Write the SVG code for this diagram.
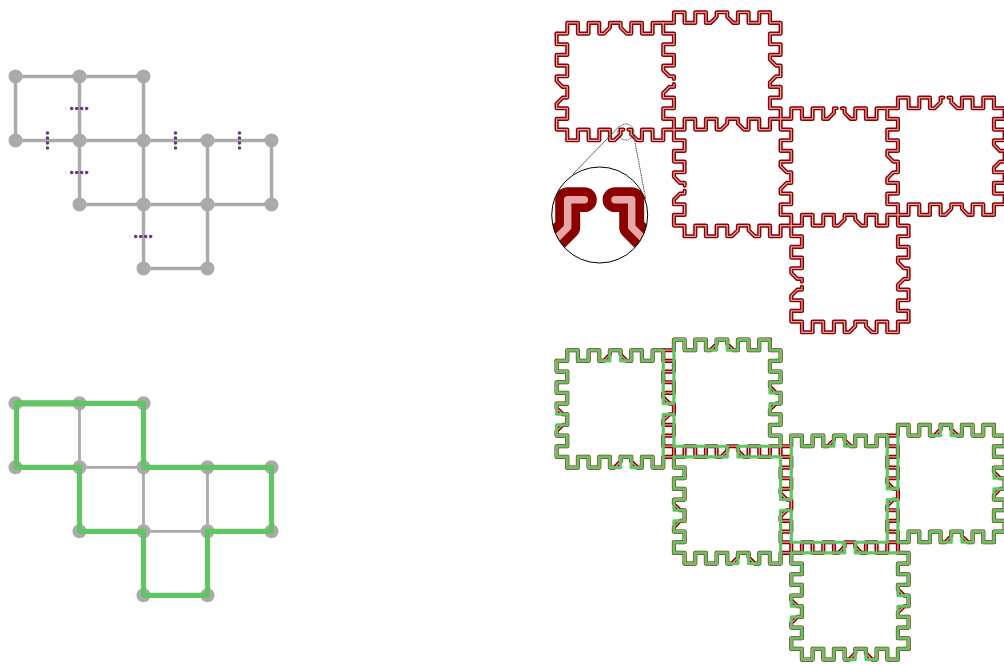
<svg xmlns="http://www.w3.org/2000/svg" xmlns:xlink="http://www.w3.org/1999/xlink" width="1004" height="664" viewBox="0 0 1004 664">
<style>
.node{fill:#aaaaaa}
.edge{fill:none;stroke:#aaaaaa;stroke-width:3.4}
.edge2{fill:none;stroke:#aaaaaa;stroke-width:2.8}
.cut{fill:none;stroke:#653a74;stroke-width:3.6;stroke-linecap:round;stroke-dasharray:0 5}
.dark{fill:none;stroke:#8b0000;stroke-width:.39;stroke-linecap:round;stroke-linejoin:round}
.pale{fill:none;stroke:#e8a6a6;stroke-width:.117;stroke-linecap:round;stroke-linejoin:round}
.cycle{fill:none;stroke:#62c462;stroke-linejoin:round;stroke-linecap:round}
</style>
<defs>
<filter id="soft" x="0" y="0" width="1" height="1" filterUnits="objectBoundingBox"><feGaussianBlur stdDeviation=".4"/></filter>
<path id="T" d="M0 0H1V-1H2V0H3V-1H4V0H4.43L5-.57V-1H6V-.57L6.57 0H7V-1H8V0H9V-1H10"/>
<path id="Tg" d="M0 0H1V-1H2V0H3V-1H4V0H4.43L5-.57V-1H5.26M5.74-1H6V-.57L6.57 0H7V-1H8V0H9V-1H10"/>
<path id="L" d="M0 0V1H1V2H0V3H1V4H0V4.43L.57 5H1V6H.57L0 6.57V7H1V8H0V9H1V10"/>
<path id="Lg" d="M0 0V1H1V2H0V3H1V4H0V4.43L.57 5H1V5.26M1 5.74V6H.57L0 6.57V7H1V8H0V9H1V10"/>
<g id="wallsGap">
<use xlink:href="#T" x="0" y="0"/><use xlink:href="#Tg" x="1" y="10"/><use xlink:href="#T" x="10" y="-1"/><use xlink:href="#T" x="11" y="9"/><use xlink:href="#Tg" x="21" y="8"/><use xlink:href="#Tg" x="31" y="7"/><use xlink:href="#T" x="22" y="18"/><use xlink:href="#T" x="32" y="17"/><use xlink:href="#T" x="12" y="19"/><use xlink:href="#T" x="23" y="28"/>
<use xlink:href="#L" x="0" y="0"/><use xlink:href="#Lg" x="10" y="-1"/><use xlink:href="#L" x="20" y="-2"/><use xlink:href="#Lg" x="11" y="9"/><use xlink:href="#L" x="21" y="8"/><use xlink:href="#L" x="31" y="7"/><use xlink:href="#L" x="41" y="6"/><use xlink:href="#Lg" x="22" y="18"/><use xlink:href="#L" x="32" y="17"/>
</g>
<g id="wallsFull">
<use xlink:href="#T" x="0" y="0"/><use xlink:href="#T" x="1" y="10"/><use xlink:href="#T" x="10" y="-1"/><use xlink:href="#T" x="11" y="9"/><use xlink:href="#T" x="21" y="8"/><use xlink:href="#T" x="31" y="7"/><use xlink:href="#T" x="22" y="18"/><use xlink:href="#T" x="32" y="17"/><use xlink:href="#T" x="12" y="19"/><use xlink:href="#T" x="23" y="28"/>
<use xlink:href="#L" x="0" y="0"/><use xlink:href="#L" x="10" y="-1"/><use xlink:href="#L" x="20" y="-2"/><use xlink:href="#L" x="11" y="9"/><use xlink:href="#L" x="21" y="8"/><use xlink:href="#L" x="31" y="7"/><use xlink:href="#L" x="41" y="6"/><use xlink:href="#L" x="22" y="18"/><use xlink:href="#L" x="32" y="17"/>
</g>
<clipPath id="lensClip"><circle cx="599.7" cy="215" r="48"/></clipPath>
</defs>
<rect width="1004" height="664" fill="#ffffff"/>
<g id="drawing" filter="url(#soft)">
<rect width="1004" height="664" fill="#ffffff"/>

<g id="graph-top-edges">
<path class="edge" d="M15.5 76.5H143.5V268.5H207.5V140.5M15.5 76.5V140.5H271.5V204.5H79.5V76.5"/>
</g>
<g id="graph-top-cuts">
<path class="cut" d="M71.7 108.5H87M71.7 172.5H87M135.7 236.5H151M47.5 133V148.3M175.5 133V148.3M239.5 133V148.3"/>
</g>
<g id="graph-top-nodes">
<g id="a1"><circle class="node" cx="15.5" cy="76.5" r="7"/></g>
<g id="a2"><circle class="node" cx="79.5" cy="76.5" r="7"/></g>
<g id="a3"><circle class="node" cx="143.5" cy="76.5" r="7"/></g>
<g id="a4"><circle class="node" cx="15.5" cy="140.5" r="7"/></g>
<g id="a5"><circle class="node" cx="79.5" cy="140.5" r="7"/></g>
<g id="a6"><circle class="node" cx="143.5" cy="140.5" r="7"/></g>
<g id="a7"><circle class="node" cx="207.5" cy="140.5" r="7"/></g>
<g id="a8"><circle class="node" cx="271.5" cy="140.5" r="7"/></g>
<g id="a9"><circle class="node" cx="79.5" cy="204.5" r="7"/></g>
<g id="a10"><circle class="node" cx="143.5" cy="204.5" r="7"/></g>
<g id="a11"><circle class="node" cx="207.5" cy="204.5" r="7"/></g>
<g id="a12"><circle class="node" cx="271.5" cy="204.5" r="7"/></g>
<g id="a13"><circle class="node" cx="143.5" cy="268.5" r="7"/></g>
<g id="a14"><circle class="node" cx="207.5" cy="268.5" r="7"/></g>
</g>

<g id="graph-bottom-edges">
<path class="edge2" d="M79.5 403.3V531.3M143.5 467.3V595.3M207.5 467.3V595.3M79.5 467.3H143.5M143.5 531.3H207.5"/>
</g>
<g id="graph-bottom-nodes">
<g id="b1"><circle class="node" cx="15.5" cy="403.3" r="7"/></g>
<g id="b2"><circle class="node" cx="79.5" cy="403.3" r="7"/></g>
<g id="b3"><circle class="node" cx="143.5" cy="403.3" r="7"/></g>
<g id="b4"><circle class="node" cx="15.5" cy="467.3" r="7"/></g>
<g id="b5"><circle class="node" cx="79.5" cy="467.3" r="7"/></g>
<g id="b6"><circle class="node" cx="143.5" cy="467.3" r="7"/></g>
<g id="b7"><circle class="node" cx="207.5" cy="467.3" r="7"/></g>
<g id="b8"><circle class="node" cx="271.5" cy="467.3" r="7"/></g>
<g id="b9"><circle class="node" cx="79.5" cy="531.3" r="7"/></g>
<g id="b10"><circle class="node" cx="143.5" cy="531.3" r="7"/></g>
<g id="b11"><circle class="node" cx="207.5" cy="531.3" r="7"/></g>
<g id="b12"><circle class="node" cx="271.5" cy="531.3" r="7"/></g>
<g id="b13"><circle class="node" cx="143.5" cy="595.3" r="7"/></g>
<g id="b14"><circle class="node" cx="207.5" cy="595.3" r="7"/></g>
</g>
<g id="graph-bottom-cycle">
<path class="cycle" stroke-width="5.2" d="M16.5 403.3H143.5V467.3H271.5V531.3H207.5V595.3H143.5V531.3H79.5V467.3H16.5Z"/>
<path class="cycle" stroke-width="6.2" d="M16.5 403.3H79.5"/>
</g>

<g id="maze-top" transform="translate(556.6 33.6) scale(10.6667)">
<use class="dark" xlink:href="#wallsGap"/>
<use class="pale" xlink:href="#wallsGap"/>
</g>

<g id="lens">
<circle cx="625.9" cy="132" r="8" fill="none" stroke="#333333" stroke-width=".9" stroke-dasharray="1.5 .8"/>
<path d="M619.5 126L573 174" fill="none" stroke="#444444" stroke-width=".8"/>
<path d="M633.5 134L645.7 199" fill="none" stroke="#333333" stroke-width=".9" stroke-dasharray="1.5 .8"/>
</g>
<g id="inset">
<circle cx="599.7" cy="215" r="48" fill="#ffffff"/>
<g clip-path="url(#lensClip)">
<g transform="translate(599.7 215) scale(64) translate(-6.5 -9.24)">
<use class="dark" xlink:href="#Tg" x="1" y="10"/>
<use class="pale" xlink:href="#Tg" x="1" y="10"/>
</g>
</g>
<circle cx="599.7" cy="215" r="48" fill="none" stroke="#000000" stroke-width="1"/>
</g>

<g id="maze-bottom" transform="translate(556.6 360.9) scale(10.6667)">
<use class="dark" xlink:href="#wallsFull"/>
<use class="pale" xlink:href="#wallsFull"/>
<path class="cycle" stroke-width=".3" d="M0 0H1V-1H2V0H3V-1H4V0H5V-1H6V0H7V-1H8V0H9V-1H10V4H11V-2H12V-1H13V-2H14V-1H15V-2H16V-1H17V-2H18V-1H19V-2H20V-1H21V0H20V1H21V2H20V3H21V4H20V5H21V6H20V7H21V8H17V9H21V13H22V7H23V8H24V7H25V8H26V7H27V8H28V7H29V8H30V7H31V12H32V6H33V7H34V6H35V7H36V6H37V7H38V6H39V7H40V6H41V7H42V8H41V9H42V10H41V11H42V12H41V13H42V14H41V15H42V16H41V17H40V16H39V17H38V16H37V17H36V16H35V17H34V16H33V17H32V13H31V17H28V18H33V19H32V20H33V21H32V22H33V23H32V24H33V25H32V26H33V27H32V28H31V27H30V28H29V27H28V28H27V27H26V28H25V27H24V28H23V27H22V26H23V25H22V24H23V23H22V22H23V21H22V20H23V19H22V18H27V17H22V14H21V19H20V18H19V19H18V18H17V19H16V18H15V19H14V18H13V19H12V18H11V17H12V16H11V15H12V14H11V13H12V12H11V11H12V10H11V9H16V8H11V5H10V10H9V9H8V10H7V9H6V10H5V9H4V10H3V9H2V10H1V9H0V8H1V7H0V6H1V5H0V4H1V3H0V2H1V1H0Z"/>
</g>
</g>
</svg>
